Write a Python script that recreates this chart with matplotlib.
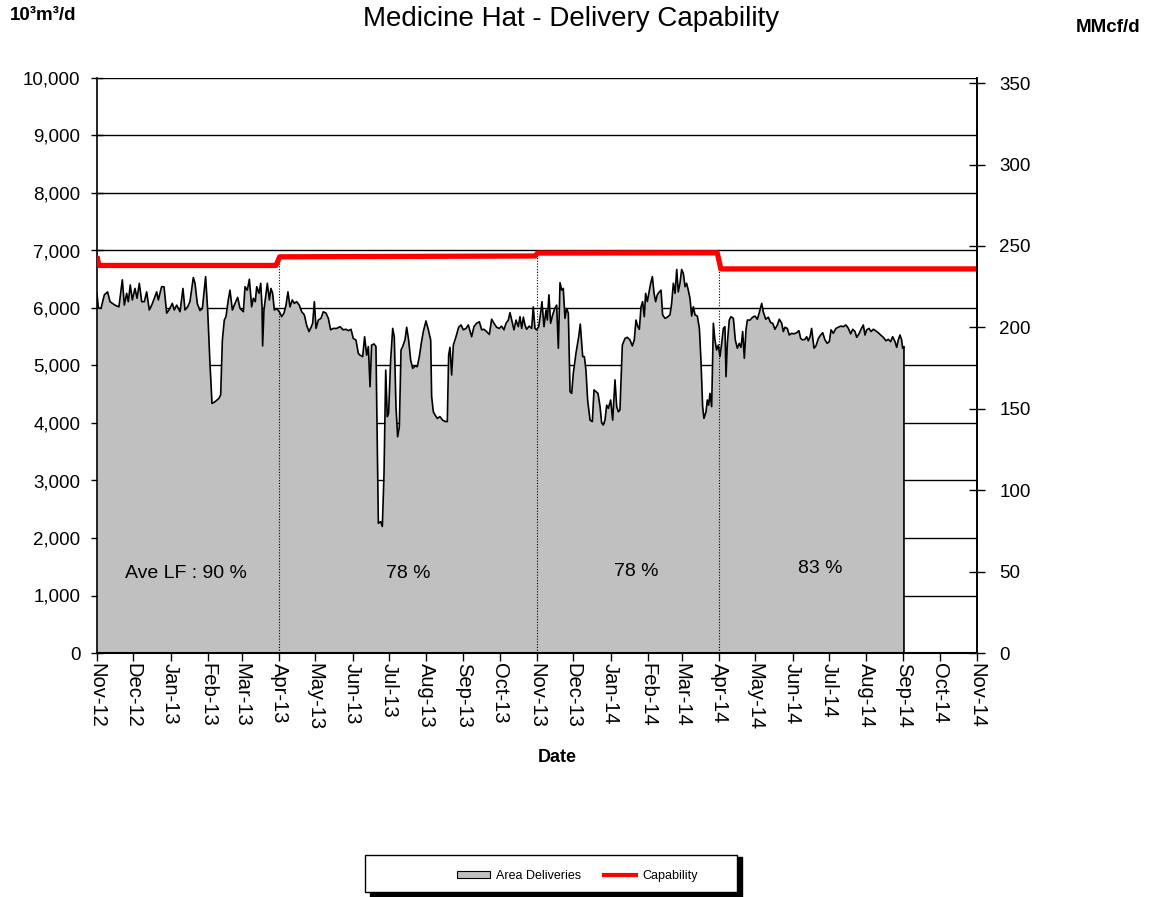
import numpy as np
import pandas as pd
import matplotlib
matplotlib.use("Agg")
import matplotlib.pyplot as plt
from matplotlib.patches import Rectangle, Patch
from matplotlib.lines import Line2D

plt.rcParams['font.family'] = ['Liberation Sans', 'DejaVu Sans']

# ---------------- data (day offset from 2012-11-01, value in 10^3 m3/d) -------------
delivery_day = [
    0.0, 1.1, 3.3, 6.1, 8.8, 10.8, 14.9, 18.2, 21.0, 22.7, 24.6, 26.0, 27.6, 29.3, 31.5, 33.2,
    35.1, 37.1, 39.3, 41.2, 43.4, 45.4, 47.6, 49.5, 50.9, 53.6, 55.6, 57.8, 59.7, 62.5, 64.1,
    66.1, 68.9, 71.3, 73.0, 75.2, 77.1, 79.9, 81.3, 83.2, 85.4, 87.4, 90.1, 91.8, 93.7, 95.4,
    97.9, 101.2, 102.6, 104.0, 105.6, 107.0, 108.9, 110.3, 112.3, 114.5, 116.7,
    118.6, 121.4, 122.8, 124.7, 126.4, 128.3, 129.7, 131.3, 132.5, 134.4, 135.8, 136.9, 137.4,
    138.5, 140.2, 141.3, 143.0, 144.3, 145.7, 147.1, 149.0, 151.3, 153.2, 155.1, 156.8, 158.4,
    160.1, 162.0, 163.7, 165.6, 167.8, 169.8, 172.0, 173.9, 175.9, 177.5, 178.9, 180.3, 181.7,
    183.6, 185.8, 187.7, 190.0, 191.9, 193.8, 196.0, 198.8, 201.6, 204.3, 206.6, 208.5, 210.7,
    212.6, 214.8, 216.8,
    218.2, 220.4, 222.0, 223.7, 225.1, 226.5, 227.8, 229.8, 231.4, 232.5, 233.4, 235.3, 236.7,
    238.1, 239.5, 240.8, 241.9, 243.6, 245.3, 246.6, 248.0, 249.4, 250.8, 252.2, 253.6, 255.5,
    256.9, 258.5, 260.2, 261.9, 263.8, 265.7, 267.4, 269.0, 270.7, 272.9, 274.9, 276.8, 277.6,
    279.0, 280.4, 282.3, 284.5, 286.7, 289.0, 290.6, 291.7, 292.8, 294.2, 295.6, 297.8, 300.0,
    302.0, 303.9, 306.1, 308.0,
    310.8, 312.7, 314.9, 317.2, 319.1, 321.0, 323.2, 325.5, 327.4, 329.3, 331.5, 333.7, 335.7,
    337.6, 339.3, 341.2, 342.6, 344.0, 345.9, 347.6, 349.5, 350.9, 352.3, 353.7, 355.0, 356.4,
    358.6, 360.6, 361.9, 363.3, 364.7, 366.4, 368.0, 369.1, 370.8, 372.5, 373.6, 374.9, 376.3,
    378.0, 379.7, 381.3, 382.7, 384.1, 385.5, 386.8, 388.2, 389.6, 391.0, 392.4, 393.8, 395.1,
    397.3, 399.6, 400.9, 402.9, 404.3, 405.6, 407.0, 409.0, 410.9, 412.3, 413.9, 415.6, 417.3,
    418.6, 420.0, 421.4, 422.8, 424.2,
    426.1, 427.8, 429.7, 431.1, 432.5, 433.8, 435.8, 438.0, 439.9, 442.1, 444.1, 445.7, 447.1,
    448.5, 449.9, 451.3, 452.6, 454.0, 455.1, 456.5, 458.2, 459.3, 460.7, 462.1, 463.4, 464.8,
    466.5, 467.9, 469.2, 471.2, 473.1, 475.3, 476.7, 478.1, 479.5, 480.9, 482.2, 483.6, 485.0,
    486.4, 487.8, 489.1, 490.5, 491.9, 493.3, 494.7, 496.1, 498.0, 499.7, 501.0, 502.4, 503.5,
    505.2, 506.3, 507.4, 508.5, 509.9, 511.3, 512.6, 514.0, 515.4, 516.8, 518.2, 519.6, 520.9,
    521.8, 522.9, 524.5, 525.9, 527.9, 529.5, 531.2, 532.8, 534.2, 535.6, 537.0, 538.4, 539.5,
    541.7, 543.9, 545.8, 547.8, 549.4, 551.4, 552.7, 554.7, 556.9, 558.8, 560.5, 562.4, 564.4,
    566.0, 568.0, 569.3, 570.7, 572.6, 574.3, 576.2, 578.2, 580.4, 582.3, 583.7, 585.4, 587.3,
    588.7, 590.1, 591.5, 592.8, 594.8, 596.4, 598.4, 600.3, 602.0, 603.9, 605.8, 607.5, 608.9,
    610.8, 613.0, 615.0, 616.9, 619.1, 621.3, 623.3, 625.2, 626.9, 628.8, 630.2, 632.1, 633.8,
    635.7, 637.1, 638.5, 640.4, 642.1, 644.0, 645.9, 648.1, 650.1, 652.3, 654.5, 656.4, 658.4,
    660.0, 662.0, 663.4, 664.7, 666.1, 667.5, 668.3, 669.4,
]
delivery_val = [
    6250, 6000, 5990, 6230, 6280, 6110, 6050, 6020, 6490, 6050, 6255, 6110, 6400, 6140, 6340, 6170,
    6430, 6110, 6110, 6280, 5965, 6050, 6170, 6280, 6140, 6370, 6370, 5910, 5965, 6080, 5965,
    6050, 5935, 6340, 5965, 6020, 6110, 6530, 6430, 6080, 5955, 5990, 6545, 5965, 5040, 4340,
    4370, 4430, 4490, 5440, 5790, 5850, 6140, 6310, 5965, 6080, 6185,
    5995, 5935, 6370, 6310, 6500, 6020, 6170, 6110, 6370, 6255, 6430, 6020, 5340,
    5965, 6255, 6430, 6140, 6340, 6255, 5965, 5990, 5935, 5850, 5910, 6050, 6280,
    6020, 6140, 6080, 6110, 6050, 5935, 5880, 5700, 5590, 5660, 5735, 6110, 5645,
    5790, 5820, 5935, 5910, 5820, 5620, 5645, 5645, 5675, 5620, 5630, 5605, 5630,
    5470, 5445, 5210,
    5180, 5155, 5500, 5180, 5330, 4630, 5355, 5375, 5330, 3590, 2255, 2285, 2200,
    3125, 4920, 4110, 4170, 5095, 5645, 5500, 4285, 3760, 3935, 5270, 5330, 5445,
    5665, 5445, 5095, 4950, 4990, 4980, 5155, 5385, 5590, 5775, 5620, 5445, 4460,
    4195, 4140, 4080, 4110, 4050, 4025, 4025, 5180, 5315, 4835, 5355, 5500, 5665,
    5705, 5620, 5645, 5705,
    5500, 5675, 5735, 5760, 5620, 5630, 5590, 5540, 5805, 5735, 5665, 5645, 5685,
    5620, 5735, 5790, 5920, 5790, 5620, 5790, 5675, 5850, 5645, 5840, 5705, 5630,
    5685, 5645, 6020, 5645, 5620, 5675, 5910, 6110, 5675, 5965, 5790, 6230, 5735,
    5880, 5990, 6050, 5300, 6440, 6310, 6340, 5820, 5990, 5910, 4545, 4515, 4860,
    5210, 5500, 5720, 5155, 5155, 4920, 4400, 4050, 4025, 4575, 4545, 4515, 4285,
    4005, 3965, 4050, 4310, 4255,
    4400, 4050, 4750, 4285, 4195, 4225, 5355, 5470, 5490, 5445, 5340, 5445, 5790,
    5685, 5630, 6020, 6110, 5850, 6255, 6110, 6310, 6430, 6545, 6255, 6110, 6230,
    6280, 6310, 5880, 5820, 5840, 5880, 6080, 6430, 6255, 6670, 6280, 6430, 6670,
    6600, 6370, 6430, 6310, 6170, 5860, 6020, 5880, 5860, 5645, 5095, 4285, 4080,
    4195, 4400, 4310, 4515, 4285, 5735, 5445, 5270, 5355, 5155, 5385, 5645, 5675,
    4805, 5385, 5790, 5850, 5820, 5445, 5300, 5385, 5315, 5590, 5125, 5630, 5790,
    5790, 5840, 5860, 5805, 5920, 6080, 5935, 5805, 5840, 5745, 5735, 5630, 5705,
    5805, 5735, 5590, 5665, 5645, 5530, 5560, 5550, 5570, 5605, 5470, 5445, 5455,
    5500, 5430, 5500, 5645, 5300, 5340, 5470, 5530, 5570, 5445, 5385, 5415, 5620,
    5560, 5645, 5665, 5685, 5675, 5705, 5645, 5550, 5630, 5590, 5490, 5550, 5630,
    5705, 5530, 5620, 5645, 5590, 5630, 5605, 5570, 5530, 5490, 5430, 5455, 5415,
    5500, 5415, 5315, 5445, 5530, 5445, 5300, 5330,
]

cap_day = [0.0, 1.5, 148.5, 151.5, 363.5, 365.5, 514.5, 517.5, 730.0]
cap_val = [6900, 6740, 6740, 6890, 6905, 6955, 6960, 6680, 6680]

period_start_days = [151, 365, 516]
lf_labels = ["Ave LF : 90 %", "78 %", "78 %", "83 %"]
lf_day = [74, 258, 447, 600]
lf_val = [1390, 1390, 1417, 1478]

month_labels = ["Nov-12", "Dec-12", "Jan-13", "Feb-13", "Mar-13", "Apr-13", "May-13",
                "Jun-13", "Jul-13", "Aug-13", "Sep-13", "Oct-13", "Nov-13", "Dec-13",
                "Jan-14", "Feb-14", "Mar-14", "Apr-14", "May-14", "Jun-14", "Jul-14",
                "Aug-14", "Sep-14", "Oct-14", "Nov-14"]
M3_TO_CF = 0.0353147  # 10^3 m3/d -> MMcf/d

# ---------------- figure ----------------
W, H = 1151, 897
fig = plt.figure(figsize=(W / 100, H / 100), dpi=100)
ax = fig.add_axes([97 / W, 1 - 653 / H, 880 / W, 575 / H])

start = pd.Timestamp("2012-11-01")
month_days = (pd.date_range(start, "2014-11-01", freq="MS") - start).days.values

ax.set_xlim(month_days[0], month_days[-1])
ax.set_ylim(0, 10000)
ax.set_axisbelow(True)
ax.yaxis.grid(True, color="black", lw=1.0)

dd = np.asarray(delivery_day)
dv = np.asarray(delivery_val)
ax.fill_between(dd, 0, dv, color="#C0C0C0", lw=0, zorder=1)
ax.plot(np.r_[dd, dd[-1]], np.r_[dv, 0], color="black", lw=1.2, zorder=2)

ax.vlines(period_start_days, 0, np.interp(period_start_days, cap_day, cap_val),
          colors="black", linestyles=(0, (1, 1.5)), lw=0.8, zorder=2)
ax.plot(cap_day, cap_val, color="#FF0000", lw=3.8, zorder=3, solid_capstyle="butt")

for lab, x, y in zip(lf_labels, lf_day, lf_val):
    ax.text(x, y, lab, ha="center", va="center", fontsize=14, color="black", zorder=4)

ax.set_yticks(np.arange(0, 10001, 1000))
ax.set_yticklabels([f"{v:,}" for v in range(0, 10001, 1000)])
ax.set_xticks(month_days)
ax.set_xticklabels(month_labels, rotation=-90, ha="center", va="top")
ax.tick_params(axis="y", direction="inout", length=8, width=1, labelsize=13.5, pad=8)
ax.tick_params(axis="x", direction="out", length=6, width=1, labelsize=14.5, pad=1)
ax.spines["top"].set_visible(False)
ax.spines["left"].set_linewidth(1.2)
ax.spines["bottom"].set_linewidth(1.5)
ax.spines["right"].set_linewidth(1.2)
ax.set_xlabel("Date", fontsize=13, fontweight="bold")
ax.xaxis.set_label_coords((557 - 97) / 880, -(757 - 653) / 575)
ax.xaxis.label.set_va("center")

ax2 = ax.twinx()
ax2.set_ylim(0, 10000 * M3_TO_CF)
ax2.set_yticks(np.arange(0, 351, 50))
ax2.tick_params(axis="y", direction="inout", length=12, width=1, labelsize=13.5, pad=10)
for s in ["top", "left", "bottom"]:
    ax2.spines[s].set_visible(False)
ax2.spines["right"].set_linewidth(1.2)

# ---------------- titles / unit labels ----------------
fig.text(571 / W, 1 - 19 / H, "Medicine Hat - Delivery Capability", ha="center", va="center",
         fontsize=20)
fig.text(10 / W, 1 - 15 / H, "10³m³/d", ha="left", va="center", fontsize=13.5, fontweight="bold")
fig.text(1140 / W, 1 - 27 / H, "MMcf/d", ha="right", va="center", fontsize=13.5, fontweight="bold")

# ---------------- legend ----------------
shadow = Rectangle((370 / W, 0.0), 372 / W, 40 / H, transform=fig.transFigure,
                   facecolor="black", edgecolor="black", zorder=0)
box = Rectangle((365 / W, 1 - 892 / H), 372 / W, 37 / H, transform=fig.transFigure,
                facecolor="white", edgecolor="black", lw=1.0, zorder=1)
fig.patches.extend([shadow, box])
handles = [Patch(facecolor="#C0C0C0", edgecolor="black", lw=0.8),
           Line2D([], [], color="#FF0000", lw=3.0)]
leg = fig.legend(handles, ["Area Deliveries", "Capability"], ncol=2, loc="center",
                 bbox_to_anchor=(0.502, 1 - 876 / H), frameon=False, fontsize=9,
                 handlelength=2.6, handleheight=0.55, columnspacing=1.8, handletextpad=0.5)
leg.set_zorder(5)

fig.savefig("out.png", dpi=100)
